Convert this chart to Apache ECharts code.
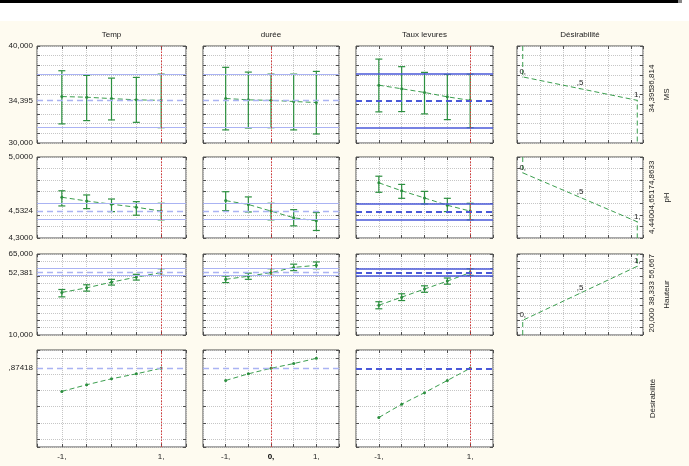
<!DOCTYPE html>
<html><head><meta charset="utf-8">
<script src="https://cdn.jsdelivr.net/npm/echarts@6/dist/echarts.min.js"></script>
<style>html,body{margin:0;padding:0;background:#fefbf0;}#c{width:689px;height:466px;}</style>
</head><body><div id="c"></div>
<script>
// ---------- data ----------
const factorNames = ['Temp', 'durée', 'Taux levures'];
const responseNames = ['MS', 'pH', 'Hauteur', 'Désirabilité'];
const desirabilityTitle = 'Désirabilité';
const levels = [-1, -0.5, 0, 0.5, 1];
const currentLevels = [1, 0, 1];
const xTickValues = [[-1, 1], [-1, 0, 1], [-1, 1]];
const xTickLabels = [['-1,', '1,'], ['-1,', '0,', '1,'], ['-1,', '1,']];

// MS
const msTempMean = [34.79, 34.72, 34.58, 34.45, 34.395];
const msTempLow  = [31.97, 32.31, 32.38, 32.13, 31.58];
const msTempHigh = [37.45, 36.97, 36.69, 36.76, 37.10];
const msDureeMean = [34.59, 34.45, 34.395, 34.28, 34.17];
const msDureeLow  = [31.35, 31.55, 31.58, 31.35, 30.93];
const msDureeHigh = [37.80, 37.31, 37.10, 37.10, 37.38];
const msLevMean = [35.96, 35.59, 35.21, 34.76, 34.395];
const msLevLow  = [33.21, 33.24, 33.00, 32.41, 31.58];
const msLevHigh = [38.65, 37.87, 37.28, 37.07, 37.10];
const msPred = 34.395;
const msLimits = [31.58, 37.10];
const msTickValues = [30, 34.395, 40];
const msTickLabels = ['30,000', '34,395', '40,000'];
const msDesValues = [36.814, 35.6045, 34.395];
const msDesLabels = ['36,814', '35,604', '34,395'];

// pH
const phTempMean = [4.652, 4.620, 4.592, 4.566, 4.5324];
const phTempLow  = [4.577, 4.554, 4.528, 4.497, 4.457];
const phTempHigh = [4.708, 4.672, 4.637, 4.614, 4.600];
const phDureeMean = [4.623, 4.590, 4.5324, 4.475, 4.448];
const phDureeLow  = [4.537, 4.525, 4.457, 4.405, 4.365];
const phDureeHigh = [4.700, 4.655, 4.600, 4.545, 4.520];
const phLevMean = [4.777, 4.708, 4.646, 4.583, 4.5324];
const phLevLow  = [4.695, 4.643, 4.594, 4.528, 4.457];
const phLevHigh = [4.834, 4.763, 4.703, 4.643, 4.600];
const phPred = 4.5324;
const phLimits = [4.457, 4.600];
const phTickValues = [4.3, 4.5324, 5.0];
const phTickLabels = ['4,3000', '4,5324', '5,0000'];
const phDesValues = [4.8633, 4.65165, 4.44];
const phDesLabels = ['4,8633', '4,6517', '4,4400'];

// Hauteur
const hTempMean = [38.9, 42.0, 45.9, 49.3, 52.381];
const hTempLow  = [35.9, 39.8, 43.9, 47.3, 50.5];
const hTempHigh = [40.9, 44.1, 47.8, 51.2, 55.0];
const hDureeMean = [47.8, 49.9, 52.381, 55.9, 57.3];
const hDureeLow  = [45.6, 47.8, 50.5, 53.7, 55.0];
const hDureeHigh = [50.0, 52.0, 55.0, 58.1, 59.6];
const hLevMean = [30.2, 35.7, 41.2, 46.6, 52.381];
const hLevLow  = [27.8, 33.4, 39.0, 44.5, 50.5];
const hLevHigh = [32.6, 38.0, 43.4, 48.7, 55.0];
const hPred = 52.381;
const hLimits = [50.5, 55.0];
const hTickValues = [10, 52.381, 65];
const hTickLabels = ['10,000', '52,381', '65,000'];
const hDesValues = [20.0, 38.333, 56.667];
const hDesLabels = ['20,000', '38,333', '56,667'];

// Overall desirability
const dTemp = [0.588, 0.670, 0.744, 0.805, 0.87418];
const dDuree = [0.723, 0.805, 0.87418, 0.932, 0.997];
const dLev = [0.265, 0.429, 0.572, 0.723, 0.87418];
const dPred = 0.87418;
const dTickValues = [0.87418];
const dTickLabels = [',87418'];

const desLevels = [0, 0.5, 1];
const desPointLabels = ['0,', ',5', '1,'];

// ---------- assembly ----------
const profiles = [
  [[msTempMean, msTempLow, msTempHigh], [msDureeMean, msDureeLow, msDureeHigh], [msLevMean, msLevLow, msLevHigh]],
  [[phTempMean, phTempLow, phTempHigh], [phDureeMean, phDureeLow, phDureeHigh], [phLevMean, phLevLow, phLevHigh]],
  [[hTempMean, hTempLow, hTempHigh], [hDureeMean, hDureeLow, hDureeHigh], [hLevMean, hLevLow, hLevHigh]],
  [[dTemp], [dDuree], [dLev]]
];
const preds = [msPred, phPred, hPred, dPred];
const limits = [msLimits, phLimits, hLimits, null];
const yTickValues = [msTickValues, phTickValues, hTickValues, dTickValues];
const yTickLabels = [msTickLabels, phTickLabels, hTickLabels, dTickLabels];
const desValues = [msDesValues, phDesValues, hDesValues];
const desLabels = [msDesLabels, phDesLabels, hDesLabels];

const rowAxes = [
  {min: 30, max: 40, interval: 1},
  {min: 4.3, max: 5.0, interval: 0.1},
  {min: 10, max: 65, interval: 5},
  {min: -0.1, max: 1.1}
];
const colBox = [[37, 186], [203, 339], [356, 493], [517, 643]];
const rowBox = [[46, 143], [157, 238], [254, 335], [350, 447]];

const GREEN = '#2c8f3f';
const GREEN_LINE = '#3b9e4e';
const RED = '#d83a3a';
const BLUE_LIGHT = ['#aab3f3', '#aab3f3', '#4a59d8'];
const GRIDC = '#c6c6c6';
const FRAME = '#505050';
const FONT = 'Liberation Sans, Arial, sans-serif';
const TXT = '#222';

function lookup(values, labels) {
  return function (v) {
    for (let i = 0; i < values.length; i++) if (Math.abs(v - values[i]) < 1e-6) return labels[i];
    return '';
  };
}

function errorBar(params, api) {
  const x = api.value(0);
  const top = api.coord([x, api.value(2)]);
  const bot = api.coord([x, api.value(1)]);
  const cap = 3.5;
  const st = {stroke: GREEN, lineWidth: 1.2, fill: null};
  return {type: 'group', children: [
    {type: 'line', shape: {x1: top[0], y1: top[1], x2: bot[0], y2: bot[1]}, style: st},
    {type: 'line', shape: {x1: top[0] - cap, y1: top[1], x2: top[0] + cap, y2: top[1]}, style: st},
    {type: 'line', shape: {x1: bot[0] - cap, y1: bot[1], x2: bot[0] + cap, y2: bot[1]}, style: st}
  ]};
}

const grid = [], xAxis = [], yAxis = [], series = [];
let g = 0;
for (let r = 0; r < 4; r++) {
  for (let c = 0; c < 4; c++) {
    if (r === 3 && c === 3) continue;
    const isDes = c === 3;
    grid.push({left: colBox[c][0], top: rowBox[r][0], width: colBox[c][1] - colBox[c][0],
      height: rowBox[r][1] - rowBox[r][0], show: true, backgroundColor: '#ffffff',
      borderColor: FRAME, borderWidth: 1});
    const xCfg = isDes ? {min: -0.05, max: 1.05, interval: 0.2} : {min: -1.5, max: 1.5, interval: 0.5};
    const tick = {inside: true, length: 3, lineStyle: {color: FRAME}};
    const split = {show: true, lineStyle: {color: GRIDC, type: 'dotted', width: 1}};
    const noLine = {show: false, onZero: false};
    xAxis.push(Object.assign({gridIndex: g, type: 'value', position: 'bottom',
      axisLine: noLine, axisTick: tick, splitLine: split,
      axisLabel: (r === 3 && !isDes) ? {
        customValues: xTickValues[c], fontSize: 8, color: TXT, fontFamily: FONT, margin: 6,
        hideOverlap: false,
        formatter: function (v) {
          const t = lookup(xTickValues[c], xTickLabels[c])(v);
          return (c === 1 && v === 0) ? '{b|' + t + '}' : t;
        },
        rich: {b: {fontWeight: 'bold', fontSize: 8, fontFamily: FONT, color: '#000'}}
      } : {show: false}}, xCfg));
    xAxis.push(Object.assign({gridIndex: g, type: 'value', position: 'top',
      axisLine: noLine, axisTick: tick, splitLine: {show: false}, axisLabel: {show: false},
      name: r === 0 ? (isDes ? desirabilityTitle : factorNames[c]) : '',
      nameLocation: 'middle', nameGap: 7,
      nameTextStyle: {fontSize: 8, color: TXT, fontFamily: FONT}}, xCfg));
    const ya = rowAxes[r];
    const yCfg = {min: ya.min, max: ya.max};
    if (ya.interval) yCfg.interval = ya.interval;
    yAxis.push(Object.assign({gridIndex: g, type: 'value', position: 'left',
      axisLine: noLine, axisTick: tick, splitLine: split,
      axisLabel: c === 0 ? {customValues: yTickValues[r], formatter: lookup(yTickValues[r], yTickLabels[r]),
        hideOverlap: false, fontSize: 8, color: TXT, fontFamily: FONT, margin: 4} : {show: false}}, yCfg));
    const right = Object.assign({gridIndex: g, type: 'value', position: 'right',
      axisLine: noLine, axisTick: tick, splitLine: {show: false}, axisLabel: {show: false}}, yCfg);
    if (isDes) {
      right.axisLabel = {customValues: desValues[r], formatter: lookup(desValues[r], desLabels[r]),
        hideOverlap: false, showMinLabel: true, showMaxLabel: true,
        rotate: 90, fontSize: 8, color: TXT, fontFamily: FONT, margin: 5};
      right.name = responseNames[r];
      right.nameLocation = 'middle';
      right.nameGap = 20;
      right.nameRotate = 90;
      right.nameTextStyle = {fontSize: 8, color: TXT, fontFamily: FONT};
    }
    if (r === 3 && c === 2) {
      right.name = responseNames[3];
      right.nameLocation = 'middle';
      right.nameGap = 156;
      right.nameRotate = 90;
      right.nameTextStyle = {fontSize: 8, color: TXT, fontFamily: FONT};
    }
    yAxis.push(right);

    if (!isDes) {
      const prof = profiles[r][c];
      const blue = BLUE_LIGHT[c];
      const bw = c === 2 ? 1.6 : 1;
      const ml = [];
      if (limits[r]) {
        ml.push({yAxis: limits[r][0], lineStyle: {color: blue, type: 'solid', width: bw}});
        ml.push({yAxis: limits[r][1], lineStyle: {color: blue, type: 'solid', width: bw}});
      }
      ml.push({yAxis: preds[r], lineStyle: {color: blue, type: [6, 4], width: bw + 0.4}});
      ml.push({xAxis: currentLevels[c], lineStyle: {color: RED, type: [1.5, 1.5], width: 1}});
      series.push({type: 'line', xAxisIndex: 2 * g, yAxisIndex: 2 * g, z: 2,
        data: levels.map((x, i) => [x, prof[0][i]]),
        symbol: 'circle', symbolSize: 3, itemStyle: {color: GREEN},
        lineStyle: {color: GREEN_LINE, width: 1, type: [5, 3]},
        animation: false, silent: true,
        markLine: {silent: true, symbol: ['none', 'none'], label: {show: false}, animation: false, data: ml}
      });
      if (prof.length > 1) {
        series.push({type: 'custom', xAxisIndex: 2 * g, yAxisIndex: 2 * g, z: 3,
          renderItem: errorBar, encode: {x: 0, y: [1, 2]}, animation: false, silent: true,
          data: levels.map((x, i) => [x, prof[1][i], prof[2][i]])});
      }
    } else {
      const dv = desValues[r];
      const decreasing = dv[0] > dv[2];
      const startY = decreasing ? ya.max : ya.min;
      const endY = decreasing ? ya.min : ya.max;
      const pts = [{value: [0, startY], symbol: 'none'}];
      desLevels.forEach((d, i) => pts.push({value: [d, dv[i]],
        label: {show: true, formatter: desPointLabels[i], position: 'top', distance: 1,
          fontSize: 8, color: TXT, fontFamily: FONT}}));
      pts.push({value: [1, endY], symbol: 'none'});
      series.push({type: 'line', xAxisIndex: 2 * g, yAxisIndex: 2 * g, z: 2, data: pts,
        symbol: 'circle', symbolSize: 1, itemStyle: {color: GREEN_LINE},
        lineStyle: {color: GREEN_LINE, width: 1, type: [5, 3]}, animation: false, silent: true});
    }
    g++;
  }
}

const chart = echarts.init(document.getElementById('c'), null, {renderer: 'canvas'});
chart.setOption({
  backgroundColor: '#fefbf0',
  animation: false,
  textStyle: {fontFamily: FONT},
  graphic: [
    {type: 'rect', left: 0, top: 0, shape: {width: 689, height: 21}, style: {fill: '#ffffff'}, silent: true},
    {type: 'rect', left: 0, top: 0, shape: {width: 678, height: 3}, style: {fill: '#000000'}, silent: true},
    {type: 'rect', left: 678, top: 0, shape: {width: 4, height: 3}, style: {fill: '#888888'}, silent: true}
  ],
  grid: grid, xAxis: xAxis, yAxis: yAxis, series: series
});
</script></body></html>
